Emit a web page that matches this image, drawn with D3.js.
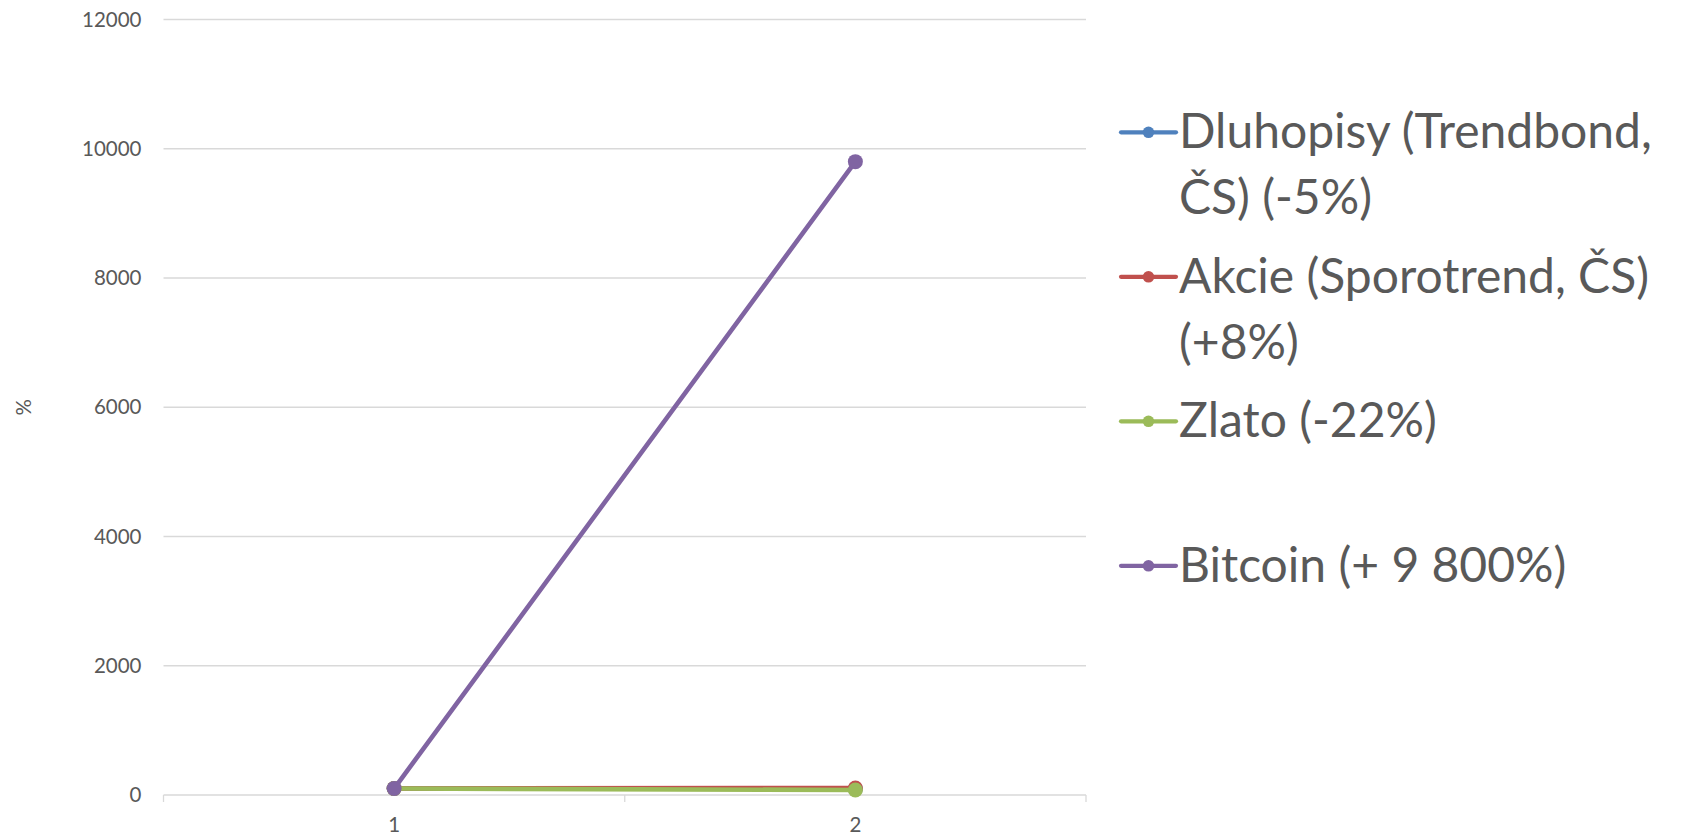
<!DOCTYPE html>
<html>
<head>
<meta charset="utf-8">
<script src="https://cdn.jsdelivr.net/npm/d3@7"></script>
<style>
  html, body { margin: 0; padding: 0; background: #ffffff; }
  svg { display: block; }
  text { font-family: Lato, "Open Sans", sans-serif; fill: #595959; }
</style>
</head>
<body>
<svg id="chart" width="1690" height="835"></svg>
<script>
// ---- data ----
const categories = ["1", "2"];
const seriesNames = ["Dluhopisy (Trendbond, ČS) (-5%)", "Akcie (Sporotrend, ČS) (+8%)", "Zlato (-22%)", "Bitcoin (+ 9 800%)"];
const legendLines = [["Dluhopisy (Trendbond,", "ČS) (-5%)"], ["Akcie (Sporotrend, ČS)", "(+8%)"], ["Zlato (-22%)"], ["Bitcoin (+ 9 800%)"]];
const dluhopisy = [100, 95];
const akcie = [100, 108];
const zlato = [100, 78];
const bitcoin = [100, 9800];
const yTicks = [0, 2000, 4000, 6000, 8000, 10000, 12000];
const yAxisTitle = "%";
const colors = ["#4F81BD", "#C0504D", "#9BBB59", "#8064A2"];

const series = [dluhopisy, akcie, zlato, bitcoin].map((v, i) => ({ name: seriesNames[i], values: v, color: colors[i], lines: legendLines[i] }));

// ---- layout ----
const svg = d3.select("#chart");
const plot = { left: 163.5, right: 1086, top: 19.5, bottom: 795 };

const x = d3.scaleBand().domain(categories).range([plot.left, plot.right]);
const y = d3.scaleLinear().domain([0, 12000]).range([plot.bottom, plot.top]);

// gridlines
svg.append("g").selectAll("line").data(yTicks).join("line")
  .attr("x1", plot.left).attr("x2", plot.right)
  .attr("y1", d => y(d)).attr("y2", d => y(d))
  .attr("stroke", "#D9D9D9").attr("stroke-width", 1.3);

// y axis labels
const yAxis = d3.axisLeft(y).tickValues(yTicks).tickSize(0).tickPadding(0).tickFormat(d3.format("d"));
const gy = svg.append("g").attr("transform", `translate(${plot.left - 22},0)`).call(yAxis);
gy.select(".domain").remove();
gy.selectAll("text").attr("font-size", 20.5).attr("fill", "#595959").attr("font-family", "Lato, 'Open Sans', sans-serif");

// x axis
const xAxis = d3.axisBottom(x).tickSize(0).tickPadding(0);
const gx = svg.append("g").attr("transform", `translate(0,${plot.bottom})`).call(xAxis);
gx.select(".domain").remove();
gx.selectAll("text").attr("font-size", 20.5).attr("fill", "#595959").attr("dy", null).attr("y", 37)
  .attr("font-family", "Lato, 'Open Sans', sans-serif");
// category boundary tick marks
const bounds = [plot.left].concat(categories.map(c => x(c) + x.bandwidth()));
svg.append("g").selectAll("line").data(bounds).join("line")
  .attr("x1", d => d).attr("x2", d => d)
  .attr("y1", plot.bottom).attr("y2", plot.bottom + 7)
  .attr("stroke", "#D9D9D9").attr("stroke-width", 1.3);

// y axis title
svg.append("text").attr("transform", `translate(31,${(plot.top + plot.bottom) / 2}) rotate(-90)`)
  .attr("text-anchor", "middle").attr("font-size", 20.5).text(yAxisTitle);

// lines
const cx = c => x(c) + x.bandwidth() / 2;
const line = d3.line().x((d, i) => cx(categories[i])).y(d => y(d));
const gs = svg.append("g").selectAll("g").data(series).join("g");
gs.append("path").attr("d", d => line(d.values)).attr("fill", "none")
  .attr("stroke", d => d.color).attr("stroke-width", 4.6).attr("stroke-linejoin", "round").attr("stroke-linecap", "round");
gs.selectAll("circle").data(d => d.values.map((v, i) => ({ v, i, color: d.color }))).join("circle")
  .attr("cx", d => cx(categories[d.i])).attr("cy", d => y(d.v)).attr("r", 7.5).attr("fill", d => d.color);

// legend
const legend = svg.append("g");
const legStartY = 148.3, legStep = 144.5, lineH = 66;
const items = legend.selectAll("g").data(series).join("g")
  .attr("transform", (d, i) => `translate(0,${legStartY + i * legStep})`);
items.append("line").attr("x1", 1121).attr("x2", 1176).attr("y1", -16).attr("y2", -16)
  .attr("stroke", d => d.color).attr("stroke-width", 4.2).attr("stroke-linecap", "round");
items.append("circle").attr("cx", 1148.5).attr("cy", -16).attr("r", 5.8).attr("fill", d => d.color);
items.append("text").attr("x", 1179).attr("font-size", 48)
  .selectAll("tspan").data(d => d.lines).join("tspan")
  .attr("x", 1179).attr("y", (d, i) => i * lineH).text(d => d);
</script>
</body>
</html>
